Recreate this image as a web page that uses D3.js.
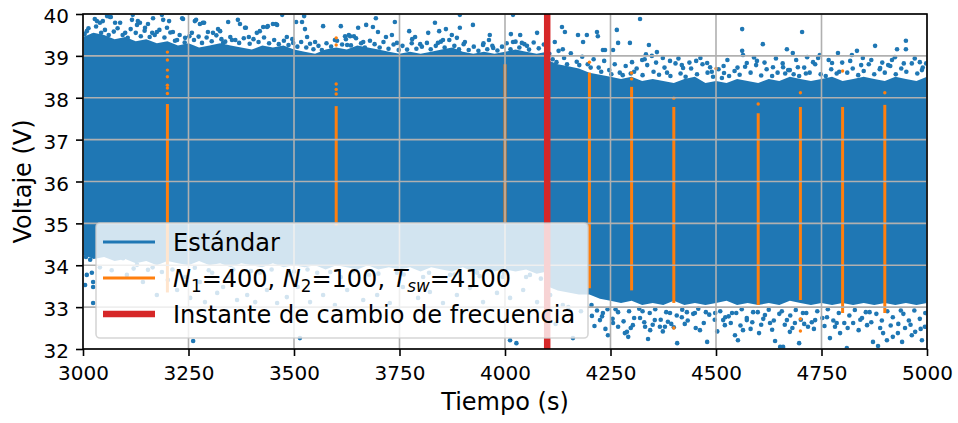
<!DOCTYPE html>
<html>
<head>
<meta charset="utf-8">
<script src="https://cdn.jsdelivr.net/npm/d3@7"></script>
<style>
  body { margin: 0; background: #fff; }
  svg { display: block; }
  text { font-family: "DejaVu Sans", sans-serif; fill: #000; }
</style>
</head>
<body>
<svg id="chart" width="958" height="423"></svg>
<script>
// ---------- axis ticks ----------
const xTicks = [3000, 3250, 3500, 3750, 4000, 4250, 4500, 4750, 5000];
const yTicks = [32, 33, 34, 35, 36, 37, 38, 39, 40];
const tSwitch = 4100;

// ---------- "Estándar": dense envelope of the voltage cloud (s, V) ----------
const bandT = [
  3000,3025,3050,3075,3100,3125,3150,3175,3200,3225,3250,3275,3300,3325,3350,3375,3400,3425,3450,3475,
  3500,3525,3550,3575,3600,3625,3650,3675,3700,3725,3750,3775,3800,3825,3850,3875,3900,3925,3950,3975,
  4000,4025,4050,4075,4100,
  4100,4125,4150,4175,4200,4225,4250,4275,4300,4325,4350,4375,4400,4425,4450,4475,4500,4525,4550,4575,
  4600,4625,4650,4675,4700,4725,4750,4775,4800,4825,4850,4875,4900,4925,4950,4975,5000
];
const bandHi = [
  39.45,39.55,39.5,39.4,39.45,39.35,39.4,39.3,39.35,39.25,39.3,39.2,39.25,39.3,39.25,39.2,39.15,39.25,39.2,39.25,
  39.15,39.1,39.05,39.15,39.2,39.15,39.25,39.2,39.15,39.1,39.05,39.1,39.05,39.1,39.15,39.2,39.1,39.05,39.1,39.05,
  39.1,39.15,39.1,39.05,39.1,
  38.9,38.8,38.75,38.7,38.6,38.55,38.5,38.45,38.5,38.4,38.45,38.4,38.35,38.45,38.5,38.35,38.4,38.35,38.45,38.4,
  38.35,38.45,38.4,38.5,38.45,38.4,38.45,38.5,38.4,38.45,38.5,38.45,38.4,38.5,38.45,38.4,38.5
];
const bandLo = [
  34.25,34.15,34.2,34.1,34.15,34.05,34.1,34.0,34.1,34.05,34.0,34.1,34.0,34.05,33.95,34.05,34.0,33.95,34.05,33.95,
  34.0,33.95,34.0,33.9,34.0,33.95,33.9,34.0,33.9,33.95,33.9,33.95,33.85,33.95,33.9,33.85,33.95,33.85,33.9,33.85,
  33.9,33.85,33.9,33.8,33.85,
  33.5,33.4,33.35,33.3,33.3,33.2,33.15,33.1,33.15,33.05,33.1,33.05,33.15,33.05,33.1,33.05,33.1,33.15,33.05,33.1,
  33.05,33.1,33.05,33.15,33.1,33.05,33.1,33.05,33.1,33.05,33.1,33.05,33.1,33.05,33.1,33.05,33.1
];

// ---------- "Estándar": scattered samples outside the envelope [s, V] ----------
const upperBefore = [
  [3009,39.59],[3033,39.83],[3040,39.79],[3057,39.95],[3064,39.93],[3076,39.79],[3088,39.79],[3100,39.55],
  [3118,39.98],[3116,39.86],[3128,39.74],[3135,39.79],[3147,39.67],[3154,39.76],[3164,39.55],[3175,39.57],
  [3187,39.98],[3190,39.86],[3199,39.67],[3204,39.83],[3213,39.57],[3223,39.38],[3237,39.88],[3242,39.43],
  [3258,39.55],[3265,39.83],[3277,39.76],[3287,39.79],[3296,39.57],[3308,39.55],[3320,39.64],[3332,39.31],
  [3353,39.38],[3367,39.86],[3372,39.76],[3384,39.67],[3393,39.45],[3412,39.55],[3419,39.59],[3436,39.69],
  [3450,39.76],[3460,39.74],[3472,39.98],[3483,39.45],[3498,39.31],[3524,39.95],[3519,39.81],[3531,39.45],
  [3550,39.33],[3569,39.71],[3028,39.88],[3047,39.83],[3066,39.93],[3130,39.83],[3166,39.90],[3235,39.90],
  [3268,39.86],[3284,39.79],[3325,39.59],[3344,39.81],[3386,39.67],[3427,39.69],[3438,39.71],[3457,39.76],
  [3505,39.81],[3526,39.64],[3611,39.71],[3633,39.47],[3671,39.74],[3694,39.90],[3699,39.57],[3597,39.38],
  [3626,39.26],[3664,39.33],[3687,39.69],[3652,39.67],[3718,39.45],[3732,39.50],[3739,39.81],[3744,39.31],
  [3773,39.59],[3787,39.45],[3780,39.40],[3834,39.79],[3799,39.28],[3818,39.55],[3844,39.59],[3860,39.64],
  [3841,39.31],[3853,39.38],[3893,39.98],[3874,39.50],[3893,39.67],[3924,39.74],[3905,39.33],[3886,39.43],
  [3948,39.26],[3964,39.50],[3962,39.38],[3972,39.19],[4014,39.52],[4019,39.33],[4036,39.50],[4040,39.31],
  [4052,39.24],[4076,39.55],[4019,39.98],[3621,39.47],[3630,39.50],[3642,39.47],
  [3004,39.52],[3013,39.66],[3022,39.48],[3031,39.7],[3043,39.55],[3052,39.62],[3061,39.5],[3073,39.58],
  [3082,39.66],[3094,39.5],[3106,39.43],[3113,39.64],[3125,39.55],[3137,39.47],[3146,39.6],[3158,39.45],
  [3170,39.5],[3181,39.62],[3193,39.44],[3207,39.56],[3218,39.36],[3229,39.5],[3241,39.32],[3252,39.47],
  [3263,39.38],[3274,39.46],[3282,39.31],[3293,39.44],[3305,39.35],[3316,39.49],[3328,39.4],[3337,39.34],
  [3349,39.45],[3361,39.38],[3370,39.31],[3381,39.42],[3395,39.29],[3404,39.4],[3416,39.33],[3429,39.44],
  [3441,39.3],[3453,39.38],[3464,39.28],[3476,39.36],[3487,39.26],[3496,39.4],[3508,39.22],[3517,39.33],
  [3529,39.2],[3538,39.29],[3546,39.16],[3558,39.24],[3566,39.14],[3577,39.3],[3588,39.22],[3602,39.36],
  [3614,39.27],[3623,39.4],[3635,39.25],[3647,39.42],[3659,39.3],[3668,39.2],[3680,39.36],[3691,39.28],
  [3703,39.2],[3712,39.33],[3724,39.17],[3736,39.27],[3748,39.14],[3757,39.24],[3768,39.15],[3779,39.3],
  [3790,39.17],[3803,39.22],[3815,39.31],[3824,39.16],[3836,39.24],[3848,39.34],[3857,39.2],[3868,39.38],
  [3880,39.24],[3891,39.16],[3902,39.28],[3914,39.14],[3926,39.22],[3937,39.12],[3949,39.3],[3958,39.16],
  [3970,39.24],[3982,39.13],[3993,39.22],[4004,39.3],[4013,39.16],[4025,39.34],[4034,39.2],[4046,39.28],
  [4057,39.15],[4068,39.32],[4080,39.18],[4092,39.27]
];
const upperAfter = [
  [4118,39.33],[4135,39.69],[4142,39.57],[4137,39.16],[4173,39.50],[4185,39.33],[4194,39.50],[4218,39.57],
  [4220,39.47],[4232,39.14],[4256,39.14],[4265,39.62],[4268,39.31],[4296,39.31],[4320,39.88],[4341,39.26],
  [4237,39.14],[4301,38.85],[4325,38.90],[4334,39.04],[4348,39.00],[4360,39.09],[4374,38.95],[4391,38.88],
  [4419,38.78],[4422,38.71],[4453,38.88],[4479,38.83],[4486,38.73],[4514,38.47],[4519,38.59],[4562,39.64],
  [4562,39.12],[4564,39.02],[4573,38.83],[4597,38.88],[4611,39.28],[4635,38.73],[4659,38.73],[4668,39.16],
  [4675,38.66],[4682,39.07],[4694,38.73],[4704,39.57],[4716,38.97],[4730,38.85],[4746,39.02],[4775,38.83],
  [4789,39.07],[4822,39.02],[4834,39.12],[4848,38.95],[4877,39.24],[4889,38.71],[4908,38.78],[4924,38.97],
  [4929,39.16],[4950,39.36],[4950,39.16],[4983,38.85],[4988,38.66],
  [4105,39.05],[4113,38.92],[4127,39.12],[4140,38.95],[4156,39.06],[4170,38.86],[4183,38.98],[4196,38.8],
  [4210,38.92],[4222,38.72],[4235,38.88],[4247,38.66],[4260,38.8],[4272,38.6],[4286,38.76],[4298,38.58],
  [4312,38.7],[4326,38.54],[4337,38.78],[4352,38.62],[4365,38.55],[4378,38.72],[4392,38.52],[4404,38.82],
  [4416,38.58],[4428,38.5],[4441,38.7],[4455,38.56],[4468,38.8],[4480,38.6],[4493,38.5],[4506,38.68],
  [4518,38.76],[4531,38.52],[4544,38.64],[4556,38.55],[4569,38.74],[4582,38.6],[4595,38.78],[4607,38.53],
  [4620,38.68],[4633,38.52],[4646,38.6],[4658,38.82],[4671,38.66],[4684,38.56],[4697,38.52],[4709,38.72],
  [4722,38.6],[4735,38.8],[4748,38.56],[4760,38.52],[4773,38.68],[4786,38.58],[4799,38.84],[4811,38.6],
  [4824,38.7],[4837,38.54],[4850,38.64],[4862,38.8],[4875,38.56],[4888,38.68],[4900,38.6],[4913,38.76],
  [4926,38.56],[4939,38.7],[4951,38.62],[4964,38.82],[4977,38.58],[4990,38.72],
  [4122,38.85],[4147,38.8],[4176,38.78],[4203,38.72],[4228,38.62],[4252,38.56],[4279,38.54],[4306,38.62],
  [4331,38.92],[4358,38.84],[4384,38.6],[4411,38.94],[4437,38.84],[4463,38.95],[4490,38.62],[4527,38.9],
  [4551,38.72],[4590,38.96],[4615,38.84],[4642,38.94],[4664,38.58],[4690,38.9],[4713,38.58],[4742,38.95],
  [4767,38.9],[4792,38.62],[4818,38.88],[4844,38.78],[4868,38.9],[4894,38.84],[4917,38.9],[4945,38.82],
  [4971,38.94],[4998,38.82]
];
const lowerBefore = [
  [3007,34.20],[3017,34.13],[3009,33.77],[3021,33.82],[3024,33.60],[3005,33.53],[3024,33.48],[3024,33.10],
  [3095,34.17],[3128,34.01],[3154,33.89],[3175,33.29],[3201,33.65],[3223,33.41],[3254,33.22],[3277,33.60],
  [3289,33.12],[3318,33.34],[3332,33.48],[3365,33.17],[3389,33.29],[3408,33.12],[3436,33.41],[3460,33.10],
  [3483,33.24],[3509,33.48],[3538,33.12],[3569,33.29],[3597,33.05],[3626,33.41],[3664,33.17],[3697,33.29],
  [3727,33.10],[3758,33.48],[3794,33.22],[3822,33.36],[3853,33.10],[3886,33.29],[3917,33.46],[3948,33.12],
  [3981,33.34],[4012,33.22],[4043,33.41],[4076,33.12],
  [3104,33.77],[3142,33.60],[3187,33.84],[3242,33.72],[3306,33.82],[3344,33.72],[3419,33.82],[3491,33.77],
  [3555,33.82],[3611,33.72],[3678,33.77],[3744,33.82],[3806,33.72],[3870,33.77],[3934,33.82],[3995,33.72],
  [4059,33.77],
  [3040,33.95],[3068,33.88],[3120,33.92],[3165,33.95],[3212,33.9],[3265,33.94],[3298,33.88],[3356,33.9],
  [3398,33.86],[3447,33.9],[3500,33.85],[3532,33.9],[3586,33.84],[3640,33.86],[3700,33.8],[3760,33.78],
  [3820,33.82],[3880,33.78],[3940,33.74],[3998,33.8],[4050,33.72],[4085,33.68],
  [3261,32.19],[3514,32.26],[4012,32.21],[4027,32.14]
];
const lowerAfter = [
  [4107,33.29],[4137,33.05],[4120,32.6],[4150,33.0],[4180,32.9],[4161,32.26],
  [4232,32.86],[4256,32.62],[4284,32.38],[4292,32.29],[4303,32.57],[4320,32.74],[4332,32.53],[4339,32.24],
  [4344,32.45],[4355,32.69],[4367,32.53],[4379,32.53],[4386,32.65],[4391,32.86],[4408,32.14],[4419,32.76],
  [4431,32.88],[4450,32.86],[4462,32.45],[4479,32.17],[4498,32.86],[4517,32.69],[4521,32.57],[4538,32.86],
  [4545,32.33],[4552,32.21],[4564,32.45],[4573,32.69],[4588,32.88],[4602,32.38],[4616,32.81],[4628,32.62],
  [4640,32.19],[4652,32.05],[4659,32.05],[4668,32.69],[4675,32.41],[4687,32.62],[4697,32.14],[4706,32.86],
  [4718,32.53],[4735,32.69],[4763,32.76],[4770,32.26],[4782,32.53],[4794,32.38],[4810,32.02],[4825,32.62],
  [4846,32.74],[4858,32.57],[4872,32.17],[4884,32.07],[4896,32.38],[4905,32.21],[4919,32.29],[4931,32.38],
  [4941,32.17],[4948,32.50],[4964,32.33],[4972,32.41],[4988,32.21],[4995,32.53],
  [4244,32.33],[4268,32.53],[4289,32.41],[4206,32.79],[4225,32.69],
  [4205,33.05],[4218,32.92],[4230,32.78],[4243,32.95],[4255,32.72],[4268,32.88],[4281,32.66],[4294,32.9],
  [4306,32.74],[4318,32.96],[4330,32.64],[4343,32.86],[4356,32.95],[4369,32.7],[4382,32.88],[4394,32.6],
  [4407,32.8],[4420,32.94],[4433,32.68],[4446,32.84],[4458,32.96],[4471,32.62],[4484,32.82],[4497,32.7],
  [4510,32.9],[4522,32.76],[4535,32.62],[4548,32.86],[4561,32.95],[4573,32.74],[4586,32.64],[4599,32.88],
  [4612,32.72],[4625,32.94],[4637,32.68],[4650,32.84],[4663,32.58],[4676,32.8],[4689,32.93],[4701,32.7],
  [4714,32.86],[4727,32.64],[4740,32.9],[4752,32.74],[4765,32.95],[4778,32.68],[4791,32.86],[4804,32.62],
  [4816,32.8],[4829,32.93],[4842,32.7],[4855,32.88],[4868,32.64],[4880,32.84],[4893,32.68],[4906,32.9],
  [4919,32.76],[4932,32.6],[4944,32.84],[4957,32.68],[4970,32.92],[4983,32.72],[4996,32.86],
  [4212,32.55],[4238,32.48],[4262,32.95],[4298,32.5],[4326,32.9],[4350,32.58],[4374,32.42],[4400,32.52],
  [4426,32.6],[4452,32.5],[4476,32.88],[4503,32.42],[4530,32.78],[4558,32.56],[4582,32.48],[4607,32.58],
  [4633,32.46],[4656,32.9],[4681,32.5],[4709,32.6],[4732,32.48],[4757,32.55],[4786,32.62],[4812,32.5],
  [4838,32.45],[4864,32.88],[4889,32.5],[4914,32.56],[4938,32.92],[4961,32.58],[4985,32.48]
];

// ---------- N1=400, N2=100, Tsw=4100: bursts at fixed instants ----------
const orangeT  = [3200, 3600, 4000, 4200, 4300, 4400, 4600, 4700, 4800, 4900];
const orangeLo = [33.35, 34.95, 35.0, 33.45, 33.4, 33.1, 33.05, 33.17, 32.86, 32.86];
const orangeHi = [37.85, 37.8, 38.8, 38.6, 38.26, 37.78, 37.63, 37.78, 37.78, 37.83];
const orangeDots = [
  [3200,39.09],[3200,38.9],[3200,38.66],[3200,38.5],[3200,38.3],[3200,38.23],[3200,38.1],
  [3600,39.43],[3600,39.26],[3600,38.33],[3600,38.2],[3600,38.09],
  [4200,38.85],[4300,38.59],[4300,38.45],[4400,37.99],[4400,32.5],[4500,38.7],
  [4600,37.85],[4700,38.12],[4700,32.72],[4700,32.43],[4800,38.64],[4900,38.12]
];

// ---------- legend ----------
const legendLabels = ["Estándar", "N1=400, N2=100, Tsw=4100", "Instante de cambio de frecuencia"];

// ---------- colours ----------
const C_BLUE = "#1f77b4", C_ORANGE = "#ff7f0e", C_RED = "#d62728", C_GRID = "#b0b0b0";

// ---------- layout ----------
const M = { left: 83, right: 927, top: 14, bottom: 349 };

const svg = d3.select("#chart");
const x = d3.scaleLinear().domain([3000, 5000]).range([M.left, M.right]);
const y = d3.scaleLinear().domain([32, 40]).range([M.bottom, M.top]);

svg.append("defs").append("clipPath").attr("id", "plotClip")
  .append("rect")
  .attr("x", M.left).attr("y", M.top)
  .attr("width", M.right - M.left).attr("height", M.bottom - M.top);

const plot = svg.append("g").attr("clip-path", "url(#plotClip)");

// dense band
const band = bandT.map((t, i) => ({ t, hi: bandHi[i], lo: bandLo[i] }));
plot.append("path")
  .datum(band)
  .attr("fill", C_BLUE)
  .attr("d", d3.area().x(d => x(d.t)).y0(d => y(d.lo)).y1(d => y(d.hi)));

// scattered samples
const scatter = [].concat(upperBefore, upperAfter, lowerBefore, lowerAfter);
plot.append("g").selectAll("circle")
  .data(scatter).join("circle")
  .attr("cx", d => x(d[0])).attr("cy", d => y(d[1]))
  .attr("r", 2.3).attr("fill", C_BLUE);

// orange bursts
plot.append("g").selectAll("line")
  .data(orangeT.map((t, i) => ({ t, lo: orangeLo[i], hi: orangeHi[i] })))
  .join("line")
  .attr("x1", d => x(d.t)).attr("x2", d => x(d.t))
  .attr("y1", d => y(d.lo)).attr("y2", d => y(d.hi))
  .attr("stroke", C_ORANGE).attr("stroke-width", 3);
plot.append("g").selectAll("circle")
  .data(orangeDots).join("circle")
  .attr("cx", d => x(d[0])).attr("cy", d => y(d[1]))
  .attr("r", 1.7).attr("fill", C_ORANGE);

// grid (above the scatter, below lines)
const grid = svg.append("g").attr("stroke", C_GRID).attr("stroke-width", 1.6);
grid.selectAll("line.vx").data(xTicks).join("line")
  .attr("x1", d => x(d)).attr("x2", d => x(d))
  .attr("y1", M.top).attr("y2", M.bottom);
grid.selectAll("line.hy").data(yTicks).join("line")
  .attr("x1", M.left).attr("x2", M.right)
  .attr("y1", d => y(d)).attr("y2", d => y(d));

// switching instant
svg.append("line")
  .attr("x1", x(tSwitch)).attr("x2", x(tSwitch))
  .attr("y1", M.top).attr("y2", M.bottom)
  .attr("stroke", C_RED).attr("stroke-width", 6.5);

// axes
const xAxis = svg.append("g")
  .attr("transform", `translate(0,${M.bottom})`)
  .call(d3.axisBottom(x).tickValues(xTicks).tickFormat(d3.format("d"))
    .tickSize(7).tickPadding(7).tickSizeOuter(0));
xAxis.selectAll("text").attr("font-size", 20).attr("dy", "0.85em")
  .attr("font-family", "DejaVu Sans");

const yAxis = svg.append("g")
  .attr("transform", `translate(${M.left},0)`)
  .call(d3.axisLeft(y).tickValues(yTicks).tickFormat(d3.format("d"))
    .tickSize(7).tickPadding(7).tickSizeOuter(0));
yAxis.selectAll("text").attr("font-size", 20).attr("dy", "0.43em")
  .attr("font-family", "DejaVu Sans");

[xAxis, yAxis].forEach(a => {
  a.select(".domain").remove();
  a.selectAll(".tick line").attr("stroke", "#000").attr("stroke-width", 1.6);
});

// frame
svg.append("rect")
  .attr("x", M.left).attr("y", M.top)
  .attr("width", M.right - M.left).attr("height", M.bottom - M.top)
  .attr("fill", "none").attr("stroke", "#000").attr("stroke-width", 1.6);

// axis titles
svg.append("text")
  .attr("x", (M.left + M.right) / 2).attr("y", 410)
  .attr("text-anchor", "middle").attr("font-size", 24)
  .text("Tiempo (s)");
svg.append("text")
  .attr("transform", `translate(31,${(M.top + M.bottom) / 2}) rotate(-90)`)
  .attr("text-anchor", "middle").attr("font-size", 24)
  .text("Voltaje (V)");

// legend
const lg = svg.append("g");
lg.append("rect")
  .attr("x", 96).attr("y", 223).attr("width", 492).attr("height", 115).attr("rx", 4)
  .attr("fill", "#fff").attr("fill-opacity", 0.8)
  .attr("stroke", "#cccccc").attr("stroke-opacity", 0.8).attr("stroke-width", 1.6);

const rows = [
  { color: C_BLUE, w: 3, label: legendLabels[0] },
  { color: C_ORANGE, w: 3, label: legendLabels[1] },
  { color: C_RED, w: 6.5, label: legendLabels[2] }
];
rows.forEach((r, i) => {
  const cy = 242 + i * 36;
  lg.append("line")
    .attr("x1", 103).attr("x2", 155).attr("y1", cy).attr("y2", cy)
    .attr("stroke", r.color).attr("stroke-width", r.w);
  const t = lg.append("text").attr("x", 173).attr("y", cy + 9).attr("font-size", 24);
  if (i === 1) {
    // N₁=400, N₂=100, T_sw=4100 with italic symbols and subscripts
    const parts = [
      { s: "N", it: true }, { s: "1", sub: true }, { s: "=400, " },
      { s: "N", it: true }, { s: "2", sub: true }, { s: "=100, " },
      { s: "T", it: true }, { s: "sw", sub: true, it: true }, { s: "=4100" }
    ];
    let shifted = false;
    parts.forEach(p => {
      const ts = t.append("tspan").text(p.s);
      if (p.it) ts.attr("font-style", "italic");
      if (p.sub) { ts.attr("font-size", 16.8).attr("dy", shifted ? 0 : 4.5); shifted = true; }
      else if (shifted) { ts.attr("dy", -4.5); shifted = false; }
    });
  } else {
    t.text(r.label);
  }
});
</script>
</body>
</html>
